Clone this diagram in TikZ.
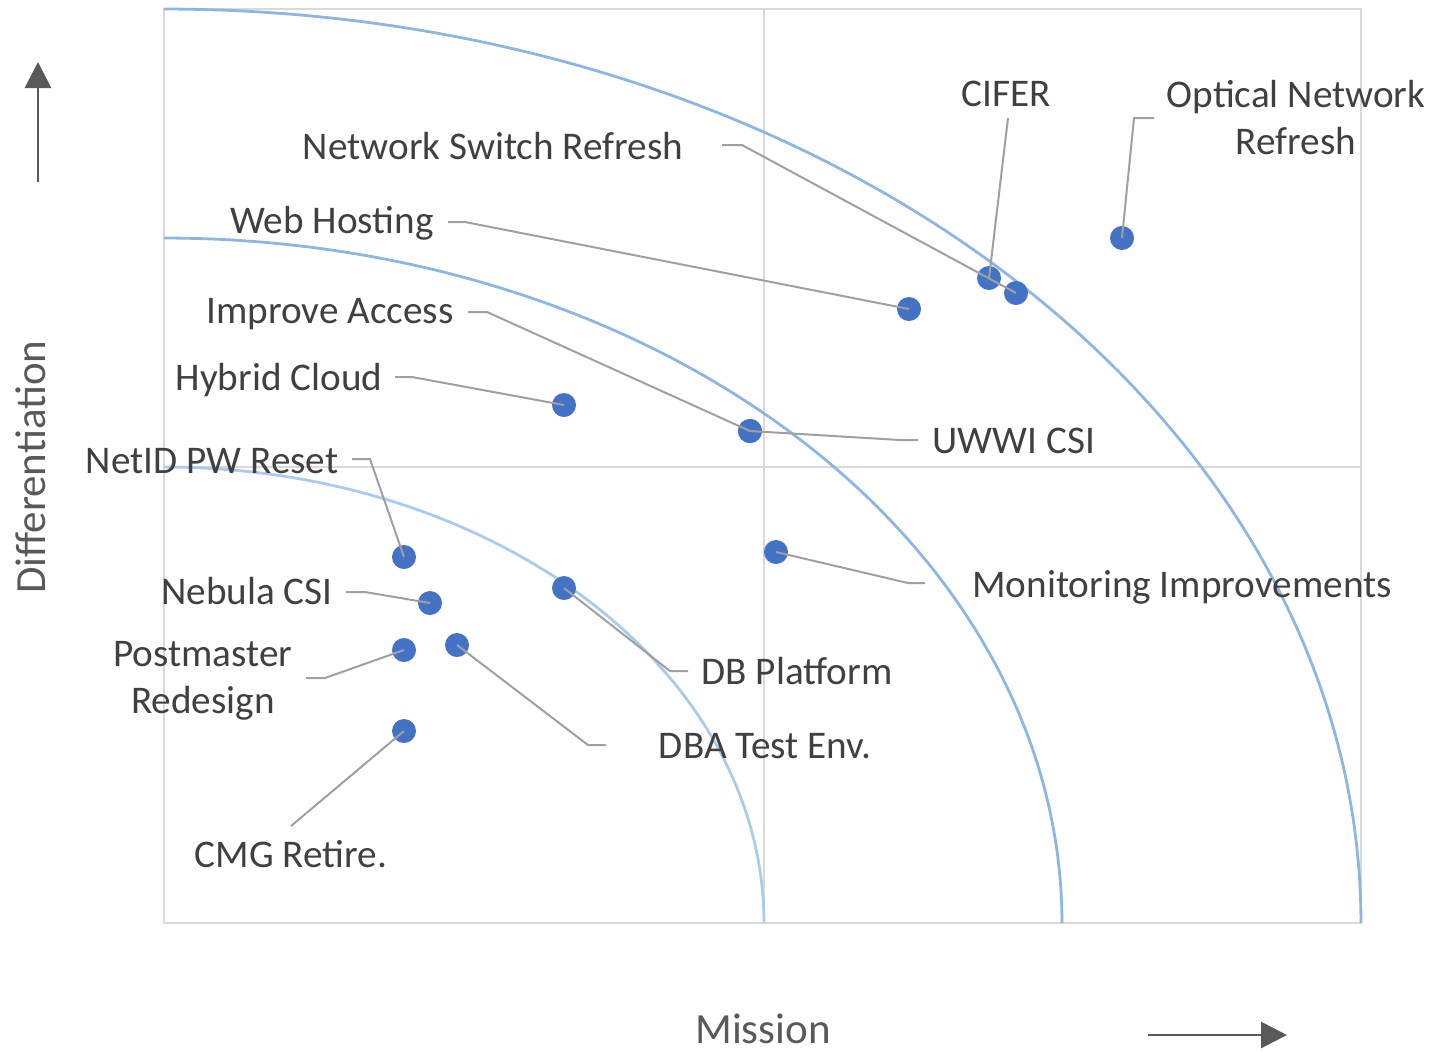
\documentclass[tikz,border=0pt]{standalone}
\usepackage{fontspec}
\setmainfont{Carlito}
\usetikzlibrary{arrows.meta}
\definecolor{curveblue}{HTML}{8DB6E2}
\definecolor{curvelight}{HTML}{A9CCEC}
\definecolor{dotblue}{HTML}{4472C4}
\definecolor{gridgray}{HTML}{D9D9D9}
\definecolor{leadergray}{HTML}{A0A0A0}
\definecolor{txt}{HTML}{404040}
\definecolor{axisgray}{HTML}{595959}
\begin{document}
\begin{tikzpicture}[x=0.5pt,y=-0.5pt,
  lbl/.style={text=txt, font=\fontsize{19.6}{24}\selectfont, inner sep=0pt, anchor=base},
  axlbl/.style={text=axisgray, font=\fontsize{21.5}{26}\selectfont, inner sep=0pt, anchor=base},
  dot/.style={circle, fill=dotblue, minimum size=12pt, inner sep=0pt},
  leader/.style={draw=leadergray, line width=1pt},
  grid/.style={draw=gridgray, line width=0.8pt},
  curve/.style={draw=curveblue, line width=1.4pt},
  axarrow/.style={draw=axisgray, line width=1.4pt, -{Triangle[length=13pt,width=13pt]}}]
\useasboundingbox (0,0) rectangle (1435,1051);
% frame and quadrants
\draw[grid] (164,9) rectangle (1361,923);
\draw[grid] (764,9) -- (764,923);
\draw[grid] (164,467) -- (1361,467);
% curves
\draw[curve] plot[domain=0:90, samples=120, smooth] ({164+1197*sin(\x)}, {923-914*cos(\x)});
\draw[curve] plot[domain=0:90, samples=120, smooth] ({164+898*sin(\x)}, {923-685*cos(\x)});
\draw[curve, draw=curvelight] plot[domain=0:90, samples=120, smooth] ({164+600*sin(\x)}, {923-456*cos(\x)});
% dots
\node[dot] (onr) at (1122,238) {};
\node[dot] (cif) at (989,278) {};
\node[dot] (nsr) at (1016,293) {};
\node[dot] (web) at (909,309) {};
\node[dot] (hyb) at (564,405) {};
\node[dot] (imp) at (750,431) {};
\node[dot] (uww) at (750,431) {};
\node[dot] (net) at (404,557) {};
\node[dot] (neb) at (430,603) {};
\node[dot] (pos) at (404,650) {};
\node[dot] (dba) at (457,645) {};
\node[dot] (dbp) at (564,588) {};
\node[dot] (mon) at (776,552) {};
\node[dot] (cmg) at (404,731) {};
% labels
\node[lbl] (Lnsr) at (493,159) {Network Switch Refresh};
\node[lbl] (Lcif) at (1006,106) {CIFER};
\node[lbl] (Lonr) at (1296,107) {Optical Network};
\node[lbl] (Lonr2) at (1296,154) {Refresh};
\node[lbl] (Lweb) at (332,233) {Web Hosting};
\node[lbl] (Limp) at (330,323) {Improve Access};
\node[lbl] (Lhyb) at (279,390) {Hybrid Cloud};
\node[lbl] (Luww) at (1014,453) {UWWI CSI};
\node[lbl] (Lnet) at (212,473) {NetID PW Reset};
\node[lbl] (Lneb) at (247,604) {Nebula CSI};
\node[lbl] (Lpos) at (203,666) {Postmaster};
\node[lbl] (Lpos2) at (203,713) {Redesign};
\node[lbl] (Lmon) at (1182,597) {Monitoring Improvements};
\node[lbl] (Ldbp) at (797,684) {DB Platform};
\node[lbl] (Ldba) at (765,758) {DBA Test Env.};
\node[lbl] (Lcmg) at (291,867) {CMG Retire.};
% leader elbow coordinates
\coordinate (nsrA) at (722,145); \coordinate (nsrB) at (742,145);
\coordinate (cifA) at (1008,118);
\coordinate (onrA) at (1154,118); \coordinate (onrB) at (1134,118);
\coordinate (webA) at (448,222); \coordinate (webB) at (465,222);
\coordinate (impA) at (468,312); \coordinate (impB) at (487,312);
\coordinate (hybA) at (395,377); \coordinate (hybB) at (412,377);
\coordinate (uwwA) at (918,440); \coordinate (uwwB) at (900,440);
\coordinate (netA) at (352,459); \coordinate (netB) at (370,459);
\coordinate (nebA) at (346,592); \coordinate (nebB) at (365,592);
\coordinate (posA) at (306,678); \coordinate (posB) at (325,678);
\coordinate (dbaA) at (606,745); \coordinate (dbaB) at (588,745);
\coordinate (dbpA) at (688,671); \coordinate (dbpB) at (670,671);
\coordinate (monA) at (925,583); \coordinate (monB) at (908,583);
\coordinate (cmgA) at (291,826);
% leaders
\draw[leader] (nsrA) -- (nsrB) -- (nsr.center);
\draw[leader] (cifA) -- (cif.center);
\draw[leader] (onrA) -- (onrB) -- (onr.center);
\draw[leader] (webA) -- (webB) -- (web.center);
\draw[leader] (impA) -- (impB) -- (imp.center);
\draw[leader] (hybA) -- (hybB) -- (hyb.center);
\draw[leader] (uwwA) -- (uwwB) -- (uww.center);
\draw[leader] (netA) -- (netB) -- (net.center);
\draw[leader] (nebA) -- (nebB) -- (neb.center);
\draw[leader] (posA) -- (posB) -- (pos.center);
\draw[leader] (dbaA) -- (dbaB) -- (dba.center);
\draw[leader] (dbpA) -- (dbpB) -- (dbp.center);
\draw[leader] (monA) -- (monB) -- (mon.center);
\draw[leader] (cmgA) -- (cmg.center);
% axes
\node[axlbl, rotate=90] (ydiff) at (46,467) {Differentiation};
\node[axlbl] (xmis) at (763,1043) {Mission};
\coordinate (ua0) at (38,182); \coordinate (ua1) at (38,62);
\coordinate (ra0) at (1148,1035); \coordinate (ra1) at (1287,1035);
\draw[axarrow] (ua0) -- (ua1);
\draw[axarrow] (ra0) -- (ra1);
\end{tikzpicture}
\end{document}
